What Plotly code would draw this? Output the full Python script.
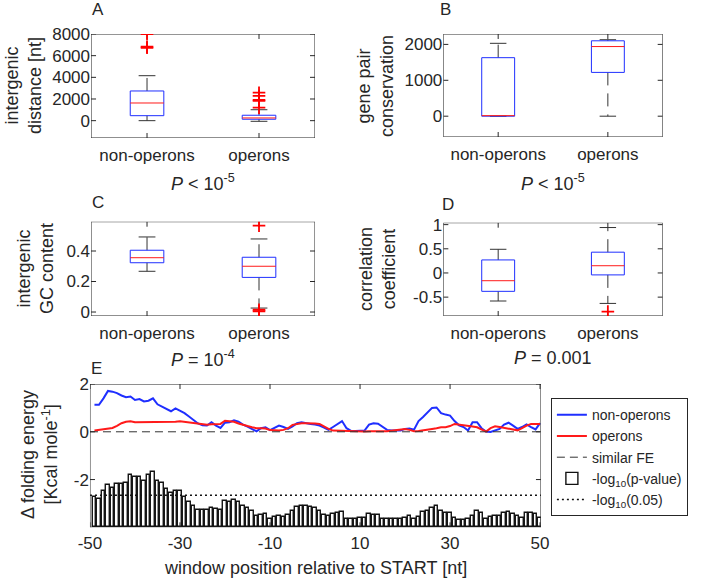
import plotly.graph_objects as go

# ---------------- data ----------------
groups = ["non-operons", "operons"]

# box summaries: lower whisker, q1, median, q3, upper whisker
dist_nonop = [0, 460, 1630, 2740, 4150]
dist_op = [-60, 130, 250, 500, 1010]
dist_out_nonop = [6730, 6820, 8000]
dist_out_op = [1200, 1820, 1910, 2280, 2580]

cons_nonop = [0, 0, 15, 1630, 2030]
cons_op = [0, 1220, 1940, 2100, 2130]

gc_nonop = [0.267, 0.323, 0.356, 0.405, 0.492]
gc_op = [0.026, 0.227, 0.300, 0.359, 0.479]
gc_out_op = [0.005, 0.015, 0.566]

corr_nonop = [-0.58, -0.38, -0.16, 0.27, 0.49]
corr_op = [-0.63, -0.04, 0.15, 0.43, 0.94]
corr_out_op = [-0.80]

p_texts = ["<i>P</i> < 10<sup>-5</sup>", "<i>P</i> < 10<sup>-5</sup>",
           "<i>P</i> = 10<sup>-4</sup>", "<i>P</i> = 0.001"]

# panel E: sliding window folding energy
positions = list(range(-49, 51))
fe_nonop = [1.13, 1.13, 1.40, 1.71, 1.68, 1.62, 1.52, 1.45, 1.48, 1.33,
            1.37, 1.27, 1.30, 1.40, 1.15, 1.05, 0.93, 0.86, 0.98, 0.88,
            0.78, 0.64, 0.51, 0.35, 0.27, 0.26, 0.40, 0.26, 0.16, 0.38,
            0.40, 0.48, 0.42, 0.30, 0.22, 0.12, 0.02, 0.15, 0.19, 0.07,
            0.18, 0.26, 0.20, 0.12, 0.23, 0.36, 0.40, 0.35, 0.33, 0.30,
            0.26, 0.18, 0.08, 0.20, 0.33, 0.45, 0.15, 0.04, 0.03, 0.03,
            0.05, 0.30, 0.36, 0.34, 0.20, 0.08, 0.05, 0.05, 0.05, 0.12,
            0.14, 0.09, 0.45, 0.62, 0.80, 1.00, 1.02, 0.78, 0.72, 0.68,
            0.45, 0.27, 0.20, 0.05, 0.40, 0.40, 0.15, 0.01, -0.01, 0.05,
            0.12, 0.30, 0.38, 0.26, 0.12, 0.20, 0.31, 0.20, 0.10, 0.36]
fe_op = [0.05, 0.08, 0.12, 0.14, 0.16, 0.25, 0.36, 0.42, 0.44, 0.40,
         0.40, 0.41, 0.43, 0.43, 0.43, 0.43, 0.42, 0.40, 0.42, 0.44,
         0.42, 0.40, 0.37, 0.33, 0.31, 0.30, 0.32, 0.33, 0.33, 0.46,
         0.45, 0.42, 0.35, 0.28, 0.24, 0.19, 0.15, 0.15, 0.14, 0.07,
         0.05, 0.05, 0.08, 0.15, 0.29, 0.33, 0.36, 0.36, 0.37, 0.35,
         0.33, 0.22, 0.12, 0.05, 0.04, 0.03, 0.03, 0.03, 0.02, 0.01,
         0.01, 0.02, 0.03, 0.03, 0.02, 0.02, 0.04, 0.06, 0.09, 0.12,
         0.08, 0.02, 0.03, 0.05, 0.08, 0.12, 0.15, 0.19, 0.19, 0.24,
         0.33, 0.31, 0.29, 0.25, 0.22, 0.19, 0.10, 0.01, 0.15, 0.23,
         0.20, 0.17, 0.13, 0.10, 0.06, 0.15, 0.26, 0.33, 0.33, 0.33]
pval_bar_top = [-2.73, -2.81, -2.50, -2.23, -2.34, -2.20, -2.20, -2.13, -1.81, -1.88,
                -1.91, -2.06, -1.81, -1.67, -2.08, -2.13, -2.41, -2.55, -2.47, -2.48,
                -2.75, -2.92, -3.10, -3.27, -3.27, -3.27, -3.20, -3.24, -3.27, -2.89,
                -2.92, -2.85, -2.95, -3.10, -3.20, -3.31, -3.54, -3.47, -3.44, -3.64,
                -3.58, -3.54, -3.56, -3.48, -3.30, -3.13, -3.10, -3.12, -3.15, -3.18,
                -3.30, -3.50, -3.52, -3.46, -3.42, -3.38, -3.66, -3.66, -3.64, -3.62,
                -3.60, -3.44, -3.47, -3.47, -3.64, -3.64, -3.64, -3.64, -3.64, -3.61,
                -3.54, -3.64, -3.58, -3.36, -3.33, -3.20, -3.09, -3.31, -3.40, -3.40,
                -3.61, -3.68, -3.68, -3.64, -3.54, -3.33, -3.40, -3.64, -3.58, -3.54,
                -3.54, -3.40, -3.36, -3.44, -3.54, -3.61, -3.40, -3.40, -3.44, -3.61]
fe_similar = 0.0
pval_cutoff = -2.66
bar_base = -4.0

# tick values
ticks_a = [0, 2000, 4000, 6000, 8000]
ticks_b = [0, 1000, 2000]
ticks_c = [0, 0.2, 0.4]
ticks_d = [-0.5, 0, 0.5, 1]
ticks_ex = [-50, -30, -10, 10, 30, 50]
ticks_ey = [-2, 0, 2]

# ---------------- styling ----------------
W, H = 709, 583
FONT = "Liberation Sans, Arial, Helvetica, sans-serif"
TXT = "#262626"
AX = "#262626"
BLUE = "#1f2fff"
RED = "#ff1a1a"
E_XRANGE = [-50, 50.2]
E_YRANGE = [-4, 2]
CAT_RANGE = [0.5, 2.5]
LX = [0.1284, 0.4443]
RX = [0.6253, 0.9347]
EX = [0.1269, 0.7630]

panels = {
    "": dict(xd=LX, yd=[0.7633, 0.9417], yr=[-1600, 8000], yt=ticks_a),
    "2": dict(xd=RX, yd=[0.7650, 0.9417], yr=[-580, 2290], yt=ticks_b),
    "3": dict(xd=LX, yd=[0.4580, 0.6197], yr=[-0.026, 0.592], yt=ticks_c),
    "4": dict(xd=RX, yd=[0.4580, 0.6180], yr=[-0.89, 1.04], yt=ticks_d),
}


def add_box(fig, pos, stats, outliers, xa, ya, half=0.15):
    lo, q1, med, q3, hi = stats
    common = dict(xaxis=xa, yaxis=ya, showlegend=False, hoverinfo="skip", mode="lines")
    # whiskers (dashed, drawn outward from the box)
    fig.add_trace(go.Scatter(x=[pos, pos, None, pos, pos], y=[q3, hi, None, q1, lo],
                             line=dict(color="#333333", width=1, dash="13px,8px"), **common))
    # caps
    fig.add_trace(go.Scatter(x=[pos - half / 2, pos + half / 2, None, pos - half / 2, pos + half / 2],
                             y=[hi, hi, None, lo, lo],
                             line=dict(color="#333333", width=1), **common))
    # box
    fig.add_trace(go.Scatter(x=[pos - half, pos + half, pos + half, pos - half, pos - half],
                             y=[q1, q1, q3, q3, q1], line=dict(color=BLUE, width=1), **common))
    # median
    fig.add_trace(go.Scatter(x=[pos - half, pos + half], y=[med, med],
                             line=dict(color=RED, width=1), **common))
    if outliers:
        fig.add_trace(go.Scatter(x=[pos] * len(outliers), y=outliers, mode="markers",
                                 marker=dict(symbol="cross-thin", size=9,
                                             line=dict(color="red", width=1.8)),
                                 xaxis=xa, yaxis=ya, showlegend=False, hoverinfo="skip"))


def add_frame(fig, xa, ya, xr, yr, xd, yd, xt, yt, tl=5):
    # box outline plus inward tick marks on all four sides (matlab style)
    dx = tl / (W * (xd[1] - xd[0])) * (xr[1] - xr[0])
    dy = tl / (H * (yd[1] - yd[0])) * (yr[1] - yr[0])
    xs = [xr[0], xr[1], xr[1], xr[0], xr[0], None]
    ys = [yr[0], yr[0], yr[1], yr[1], yr[0], None]
    for v in yt:
        xs += [xr[0], xr[0] + dx, None, xr[1], xr[1] - dx, None]
        ys += [v, v, None, v, v, None]
    for v in xt:
        xs += [v, v, None, v, v, None]
        ys += [yr[0], yr[0] + dy, None, yr[1], yr[1] - dy, None]
    fig.add_trace(go.Scatter(x=xs, y=ys, mode="lines", line=dict(color=AX, width=1),
                             cliponaxis=False, xaxis=xa, yaxis=ya,
                             showlegend=False, hoverinfo="skip"))


fig = go.Figure()

for k, (s1, o1, s2, o2) in zip(["", "2", "3", "4"], [
        (dist_nonop, dist_out_nonop, dist_op, dist_out_op),
        (cons_nonop, [], cons_op, []),
        (gc_nonop, [], gc_op, gc_out_op),
        (corr_nonop, [], corr_op, corr_out_op)]):
    p = panels[k]
    xa, ya = "x" + k, "y" + k
    add_frame(fig, xa, ya, CAT_RANGE, p["yr"], p["xd"], p["yd"], [1, 2], p["yt"])
    add_box(fig, 1, s1, o1, xa, ya)
    add_box(fig, 2, s2, o2, xa, ya)

# panel E
fig.add_trace(go.Scatter(x=positions, y=fe_nonop, mode="lines", name="non-operons",
                         line=dict(color=BLUE, width=2), xaxis="x5", yaxis="y5"))
fig.add_trace(go.Scatter(x=positions, y=fe_op, mode="lines", name="operons",
                         line=dict(color=RED, width=2), xaxis="x5", yaxis="y5"))
fig.add_trace(go.Scatter(x=E_XRANGE, y=[fe_similar, fe_similar], mode="lines", name="similar FE",
                         line=dict(color="#333333", width=1, dash="8px,5px"),
                         xaxis="x5", yaxis="y5"))
fig.add_trace(go.Bar(x=positions, y=[t - bar_base for t in pval_bar_top], base=bar_base,
                     width=0.72, name="-log<sub>10</sub>(p-value)",
                     marker=dict(color="white", line=dict(color="#111111", width=1.4)),
                     xaxis="x5", yaxis="y5"))
fig.add_trace(go.Scatter(x=E_XRANGE, y=[pval_cutoff, pval_cutoff], mode="lines",
                         name="-log<sub>10</sub>(0.05)",
                         line=dict(color="#111111", width=1.5, dash="2px,3px"),
                         xaxis="x5", yaxis="y5"))
add_frame(fig, "x5", "y5", E_XRANGE, E_YRANGE, EX, [0.0955, 0.3413], ticks_ex, ticks_ey)


def ax(**kw):
    d = dict(showline=False, ticks="", showgrid=False, zeroline=False,
             automargin=False, tickfont=dict(size=17, color=TXT, family=FONT))
    d.update(kw)
    return d


cat = dict(range=CAT_RANGE, tickvals=[1, 2], ticktext=groups, ticklabelstandoff=5)


def fmt(vals):
    return ["%g" % v for v in vals]


layout_axes = {}
for k, p in panels.items():
    layout_axes["xaxis" + k] = ax(domain=p["xd"], anchor="y" + k, **cat)
    layout_axes["yaxis" + k] = ax(domain=p["yd"], anchor="x" + k, range=p["yr"],
                                  tickvals=p["yt"], ticktext=fmt(p["yt"]))

fig.update_layout(
    width=W, height=H,
    margin=dict(l=0, r=0, t=0, b=0, autoexpand=False),
    paper_bgcolor="white", plot_bgcolor="white",
    font=dict(family=FONT, color=TXT, size=17),
    showlegend=True,
    bargap=0,
    xaxis5=ax(domain=EX, anchor="y5", range=E_XRANGE,
              tickvals=ticks_ex, ticktext=fmt(ticks_ex), ticklabelstandoff=4),
    yaxis5=ax(domain=[0.0955, 0.3413], anchor="x5", range=E_YRANGE,
              tickvals=ticks_ey, ticktext=fmt(ticks_ey)),
    legend=dict(x=0.777, y=0.317, xanchor="left", yanchor="top",
                bordercolor=AX, borderwidth=1, bgcolor="white",
                font=dict(size=14, color=TXT, family=FONT), traceorder="normal"),
    **layout_axes,
)


def px(xp, yp):
    return xp / W, 1 - yp / H


annotations = []
# panel letters
for letter, (xp, yp) in zip("ABCDE", [(90, 10), (438, 9), (90, 203), (440, 204), (89, 368)]):
    x, y = px(xp, yp)
    annotations.append(dict(text=letter, x=x, y=y, xref="paper", yref="paper",
                            xanchor="left", yanchor="middle", showarrow=False,
                            font=dict(size=17, color=TXT)))
# p values
for t, (xp, yp) in zip(p_texts, [(203, 182), (553, 182), (203, 358), (553, 358)]):
    x, y = px(xp, yp)
    annotations.append(dict(text=t, x=x, y=y, xref="paper", yref="paper",
                            xanchor="center", yanchor="middle", showarrow=False,
                            font=dict(size=18, color=TXT)))
# y-axis titles
ytitles = [("intergenic<br>distance [nt]", 23, 86),
           ("gene pair<br>conservation", 375, 86),
           ("intergenic<br>GC content", 36, 269),
           ("correlation<br>coefficient", 378, 269),
           ("\u0394 folding energy<br>[Kcal mole<sup>-1</sup>]", 40, 455)]
for t, xp, yp in ytitles:
    x, y = px(xp, yp)
    annotations.append(dict(text=t, x=x, y=y, xref="paper", yref="paper", textangle=-90,
                            xanchor="center", yanchor="middle", showarrow=False,
                            font=dict(size=18, color=TXT)))
x, y = px(315, 568)
annotations.append(dict(text="window position relative to START [nt]", x=x, y=y,
                        xref="paper", yref="paper", xanchor="center", yanchor="middle",
                        showarrow=False, font=dict(size=18, color=TXT)))
fig.update_layout(annotations=annotations)

fig.write_html("out.html", config={"displayModeBar": False},
               post_script="document.body.style.margin='0px';")
